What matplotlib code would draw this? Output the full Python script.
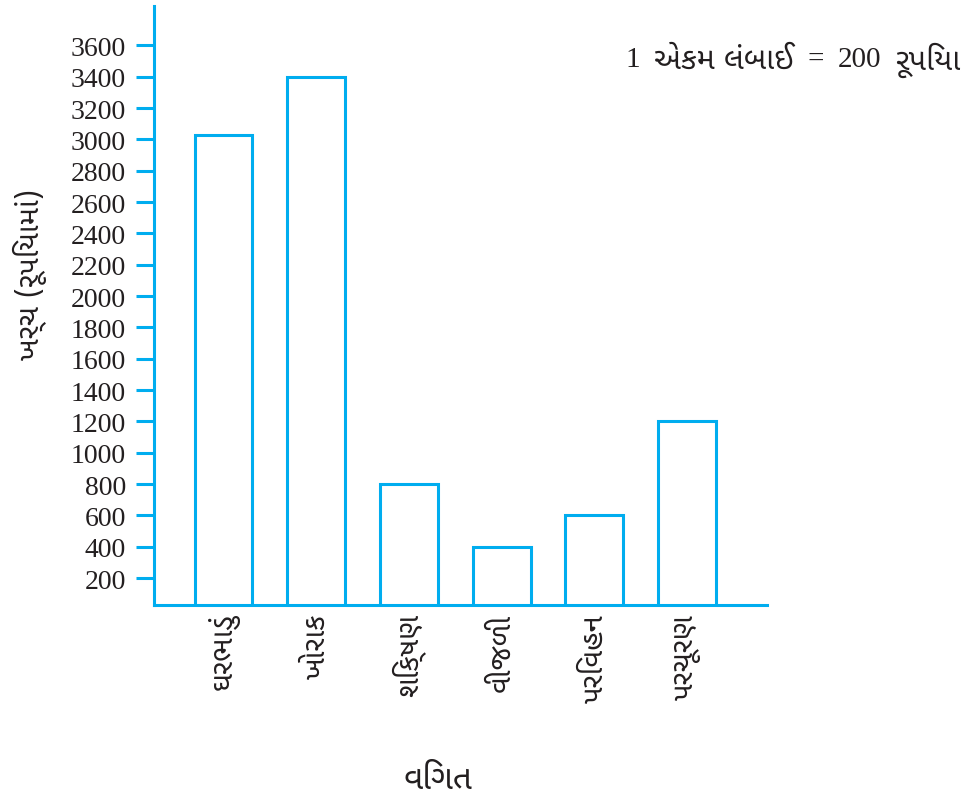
import matplotlib
matplotlib.use("Agg")
import matplotlib.pyplot as plt
from matplotlib import font_manager as fm
from matplotlib.ft2font import FT2Font

# ખર્ચની વિગતો (રૂપિયામાં)
items = ["ઘરભાડું", "ખોરાક", "શિક્ષણ", "વીજળી", "પરિવહન", "પરચૂરણ"]
expense = [3030, 3400, 800, 400, 600, 1200]
yticks = list(range(200, 3601, 200))

BLUE = "#00adef"
INK = "#231f20"


def find_gujarati_family():
    # ગુજરાતી અક્ષરો ધરાવતો ફૉન્ટ શોધો, સારા નામોને પ્રાથમિકતા
    found = []
    seen = set()
    for f in fm.fontManager.ttflist:
        if f.fname in seen:
            continue
        seen.add(f.fname)
        try:
            cmap = FT2Font(f.fname).get_charmap()
        except Exception:
            continue
        if 0x0A95 in cmap and 0x0AB0 in cmap:
            found.append(f.name)
    if not found:
        return None
    prefer = ["Noto Sans Gujarati", "Lohit Gujarati", "Noto Serif Gujarati", "Gujarati"]
    for p in prefer:
        for name in found:
            if p in name:
                return name
    return found[0]


guj = find_gujarati_family()
guj_fam = [guj, "DejaVu Sans"] if guj else ["Noto Sans", "DejaVu Sans"]
serif_fam = ["Liberation Serif", "DejaVu Serif"]

fig = plt.figure(figsize=(9.72, 8.04), dpi=100)
ax = fig.add_axes([0.1584, 0.2467, 0.789 - 0.1584, 0.991 - 0.2467])

x = list(range(len(items)))
ax.bar(x, expense, width=0.625, facecolor="white", edgecolor=BLUE, linewidth=2.2)

ax.set_xlim(-0.75, 5.86)
ax.set_ylim(30, 3850)

for s in ["top", "right"]:
    ax.spines[s].set_visible(False)
for s in ["left", "bottom"]:
    ax.spines[s].set_color(BLUE)
    ax.spines[s].set_linewidth(2.2)

ax.set_yticks(yticks)
ax.set_yticklabels([str(v) for v in yticks], family=serif_fam, fontsize=20, color=INK)
ax.tick_params(axis="y", direction="out", length=13, width=2.2, color=BLUE, pad=7)

ax.set_xticks(x)
ax.set_xticklabels(items, rotation=90, family=guj_fam, fontsize=21, color=INK, va="top")
ax.tick_params(axis="x", length=0, pad=6)

ax.set_ylabel("ખર્ચ (રૂપિયામાં)", family=guj_fam, fontsize=21, color=INK)
ax.yaxis.set_label_coords(-0.175, 0.553)

fig.text(438 / 972, 1 - 780 / 804, "વિગત", family=guj_fam, fontsize=24,
         color=INK, ha="center", va="center")

# માપ: અંકો serif માં, ગુજરાતી શબ્દો અલગ ફૉન્ટમાં
parts = [("1", serif_fam, 21), ("એકમ લંબાઈ", guj_fam, 22), ("=", serif_fam, 21),
         ("200", serif_fam, 21), ("રૂપિયા", guj_fam, 22)]
prev = fig.text(625 / 972, 1 - 60 / 804, parts[0][0], family=parts[0][1],
                fontsize=parts[0][2], color=INK, ha="left", va="center")
for txt, fam, fs in parts[1:]:
    prev = ax.annotate(txt, xy=(1, 0.5), xycoords=prev, xytext=(10, 0),
                       textcoords="offset points", family=fam, fontsize=fs,
                       color=INK, ha="left", va="center", annotation_clip=False)

fig.savefig("out.png", dpi=100, facecolor="white")
